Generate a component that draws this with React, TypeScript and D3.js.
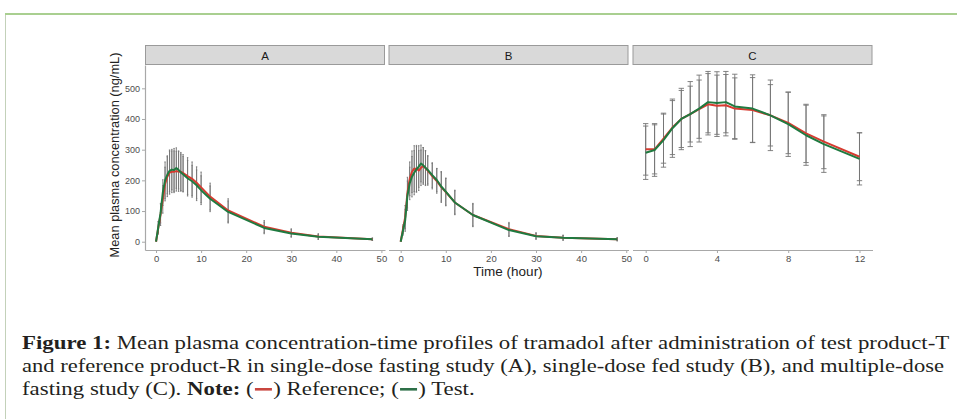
import { useEffect, useRef } from 'react';
import * as d3 from 'd3';

// sampling times (hours)
const timesAB = [0, 0.5, 1, 1.5, 2, 2.5, 3, 3.5, 4, 4.5, 5, 5.5, 6, 7, 8, 9, 10, 12, 16, 24, 30, 36, 48];
const timesC = [0, 0.5, 1, 1.5, 2, 2.5, 3, 3.5, 4, 4.5, 5, 6, 7, 8, 9, 10, 12];

// A: single-dose fasting
const refA = [0, 45, 88, 138, 188, 212, 225, 228, 228, 230, 229, 228, 224, 214, 205, 192, 177, 147, 102, 49, 29, 17, 8];
const testA = [0, 48, 93, 160, 200, 218, 231, 235, 234, 240, 234, 226, 220, 207, 197, 184, 168, 140, 97, 45, 27, 16, 8];
const refSdA = [0, 20, 35, 45, 55, 65, 70, 68, 68, 65, 65, 63, 60, 60, 55, 52, 50, 44, 38, 20, 13, 9, 4];
const testSdA = [0, 18, 32, 42, 60, 62, 68, 66, 70, 66, 62, 60, 58, 58, 52, 50, 47, 42, 36, 19, 12, 8, 4];

// B: single-dose fed
const refB = [0, 40, 80, 160, 205, 228, 238, 238, 232, 241, 247, 240, 232, 214, 198, 178, 162, 128, 87, 41, 19, 13, 8];
const testB = [0, 35, 70, 150, 190, 212, 225, 236, 245, 255, 249, 241, 234, 217, 201, 180, 163, 128, 87, 38, 18, 13, 8];
const refSdB = [0, 15, 38, 50, 55, 68, 75, 76, 65, 58, 60, 57, 48, 42, 40, 50, 45, 40, 38, 22, 10, 8, 5];
const testSdB = [0, 14, 36, 48, 53, 66, 72, 74, 68, 60, 58, 55, 46, 40, 38, 48, 44, 38, 36, 21, 10, 8, 5];

// C: multiple-dose fasting
const refC = [301, 301, 336, 372, 400, 416, 432, 448, 443, 445, 434, 429, 412, 387, 353, 326, 277];
const testC = [290, 299, 331, 370, 400, 416, 434, 455, 452, 455, 441, 434, 412, 383, 347, 318, 270];
const refSdC = [84, 80, 80, 88, 93, 91, 95, 100, 100, 100, 100, 106, 100, 100, 95, 88, 78];
const testSdC = [87, 86, 88, 95, 100, 106, 109, 100, 102, 100, 105, 110, 115, 105, 98, 92, 85];

const xTicksAB = [0, 10, 20, 30, 40, 50];
const xTicksC = [0, 4, 8, 12];
const yTicks = [0, 100, 200, 300, 400, 500];

const yTitle = 'Mean plasma concentration (ng/mL)';
const xTitle = 'Time (hour)';
const captionLine1 = ['Figure 1:', ' Mean plasma concentration-time profiles of tramadol after administration of test product-T'];
const captionLine2 = 'and reference product-R in single-dose fasting study (A), single-dose fed study (B), and multiple-dose';

const RED = '#d63b30';
const GREEN = '#1f7a40';

export default function App() {
  const svgRef = useRef<SVGSVGElement>(null);

  useEffect(() => {
    const svg = d3.select(svgRef.current);
    svg.selectAll('*').remove();

    // page frame
    svg.append('line').attr('x1', 5.5).attr('x2', 5.5).attr('y1', 14).attr('y2', 419)
      .attr('stroke', '#c3d1b9').attr('stroke-width', 1);
    svg.append('line').attr('x1', 5).attr('x2', 957).attr('y1', 14).attr('y2', 14)
      .attr('stroke', '#a9cf90').attr('stroke-width', 2);

    const panels = [
      { label: 'A', left: 145, domain: [-2.45, 50.8], ticks: xTicksAB, times: timesAB, ref: refA, test: testA, refSd: refSdA, testSd: testSdA },
      { label: 'B', left: 388.5, domain: [-2.7, 50.5], ticks: xTicksAB, times: timesAB, ref: refB, test: testB, refSd: refSdB, testSd: testSdB },
      { label: 'C', left: 632.5, domain: [-0.74, 12.73], ticks: xTicksC, times: timesC, ref: refC, test: testC, refSd: refSdC, testSd: testSdC },
    ];
    const panelW = 240;
    const top = 65;
    const bottom = 250;

    const y = d3.scaleLinear().domain([-27, 576]).range([bottom, top]);

    const font = '"Liberation Sans", Arial, sans-serif';

    panels.forEach((p, i) => {
      const x = d3.scaleLinear().domain(p.domain).range([p.left, p.left + panelW]);
      const g = svg.append('g');

      // strip
      g.append('rect').attr('x', p.left + 0.5).attr('y', 45.5).attr('width', panelW - 1).attr('height', 19)
        .attr('fill', '#d9d9d9').attr('stroke', '#9a9a9a').attr('stroke-width', 1);
      g.append('text').attr('x', p.left + panelW / 2).attr('y', 59.5).attr('text-anchor', 'middle')
        .attr('font-family', font).attr('font-size', 11.5).attr('fill', '#1a1a1a').text(p.label);

      // x axis
      const xAxis = g.append('g').attr('transform', `translate(0,${bottom})`)
        .call(d3.axisBottom(x).tickValues(p.ticks).tickSize(3).tickPadding(2.5).tickSizeOuter(0));
      xAxis.select('.domain').attr('stroke', '#a8a8a8').attr('stroke-width', 1.2);
      xAxis.selectAll('.tick line').attr('stroke', '#a8a8a8');
      xAxis.selectAll('.tick text').attr('font-family', font).attr('font-size', 9.5).attr('fill', '#4d4d4d');

      if (i === 0) {
        const yAxis = g.append('g').attr('transform', `translate(${p.left},0)`)
          .call(d3.axisLeft(y).tickValues(yTicks).tickSize(3).tickPadding(2).tickSizeOuter(0));
        yAxis.select('.domain').attr('stroke', '#a8a8a8').attr('stroke-width', 1.2);
        yAxis.selectAll('.tick line').attr('stroke', '#a8a8a8');
        yAxis.selectAll('.tick text').attr('font-family', font).attr('font-size', 9).attr('fill', '#4d4d4d');
      }

      // error bars
      const capHalf = 0.15;
      const bars = g.append('g').attr('stroke', '#757575').attr('stroke-width', 0.9).attr('fill', 'none');
      [[p.ref, p.refSd], [p.test, p.testSd]].forEach(([m, sd]) => {
        p.times.forEach((t, k) => {
          if (sd[k] <= 0) return;
          const hi = m[k] + sd[k];
          const lo = m[k] - sd[k];
          bars.append('line').attr('x1', x(t)).attr('x2', x(t)).attr('y1', y(hi)).attr('y2', y(lo));
          [hi, lo].forEach((v) => {
            bars.append('line').attr('x1', x(t - capHalf)).attr('x2', x(t + capHalf)).attr('y1', y(v)).attr('y2', y(v));
          });
        });
      });

      // mean lines
      const line = d3.line<number>().x((_, k) => x(p.times[k])).y((d) => y(d));
      g.append('path').datum(p.ref).attr('d', line).attr('fill', 'none').attr('stroke', RED)
        .attr('stroke-width', 2).attr('stroke-linejoin', 'round');
      g.append('path').datum(p.test).attr('d', line).attr('fill', 'none').attr('stroke', GREEN)
        .attr('stroke-width', 2).attr('stroke-linejoin', 'round');
    });

    // axis titles
    svg.append('text').attr('transform', 'translate(119,155) rotate(-90)').attr('text-anchor', 'middle')
      .attr('font-family', font).attr('font-size', 12.8).attr('fill', '#222').text(yTitle);
    svg.append('text').attr('x', 508).attr('y', 275.5).attr('text-anchor', 'middle')
      .attr('font-family', font).attr('font-size', 13.5).attr('fill', '#222').text(xTitle);

    // caption
    const cap = svg.append('g').attr('font-family', '"Liberation Serif", "Times New Roman", serif')
      .attr('font-size', 18).attr('fill', '#231f20');
    const l1 = cap.append('text').attr('x', 0).attr('y', 349);
    l1.append('tspan').attr('font-weight', 'bold').text(captionLine1[0]);
    l1.append('tspan').text(captionLine1[1]);
    const len1 = (l1.node() as SVGTextElement).getComputedTextLength();
    const k = 928 / len1;
    cap.attr('transform', `translate(22,0) scale(${k},1)`);

    cap.append('text').attr('x', 0).attr('y', 372).attr('textLength', 922 / k)
      .attr('lengthAdjust', 'spacingAndGlyphs').text(captionLine2);

    // third line with colored dashes
    let cx = 0;
    const y3 = 395;
    const seg = (txt: string, bold = false) => {
      const t = cap.append('text').attr('x', cx).attr('y', y3).attr('xml:space', 'preserve')
        .style('white-space', 'pre').text(txt);
      if (bold) t.attr('font-weight', 'bold');
      cx += (t.node() as SVGTextElement).getComputedTextLength();
    };
    const dash = (color: string) => {
      const w = 17 / k;
      cap.append('rect').attr('x', cx + 1).attr('y', y3 - 7).attr('width', w).attr('height', 2.6).attr('fill', color);
      cx += w + 2;
    };
    seg('fasting study (C). ');
    seg('Note:', true);
    seg(' (');
    dash('#c9463f');
    seg(') Reference; (');
    dash('#2e7048');
    seg(') Test.');
  }, []);

  return (
    <svg
      ref={svgRef}
      width={957}
      height={419}
      style={{ position: 'absolute', left: 0, top: 0, background: '#fff' }}
    />
  );
}
